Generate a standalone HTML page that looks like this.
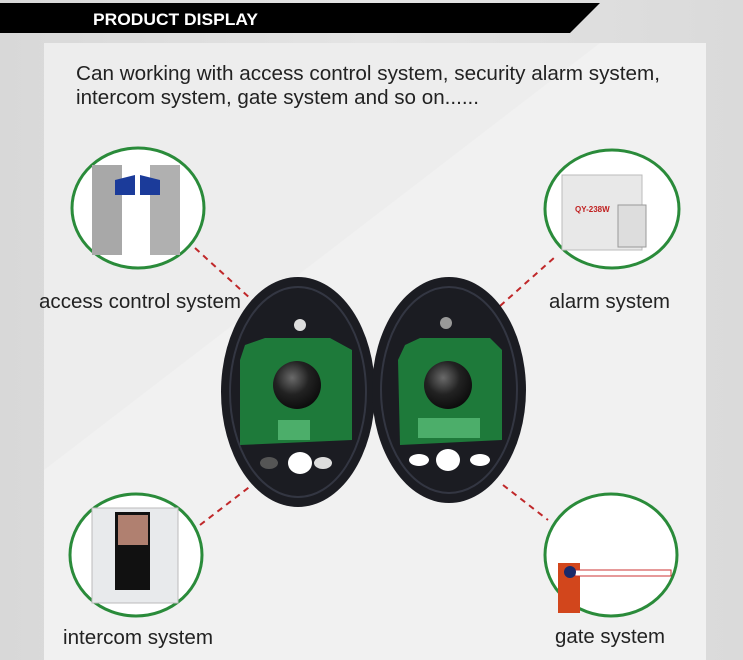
<!DOCTYPE html><html><head><style>
body{margin:0;width:743px;height:660px;overflow:hidden;background:#dcdcdc;font-family:"Liberation Sans",sans-serif}
</style></head><body>
<svg width="743" height="660" xmlns="http://www.w3.org/2000/svg" style="position:absolute;left:0;top:0">
<defs>
<linearGradient id="bg" x1="0" y1="0" x2="1" y2="0"><stop offset="0" stop-color="#d8d8d8"/><stop offset="0.5" stop-color="#e4e4e4"/><stop offset="1" stop-color="#dadada"/></linearGradient>
<radialGradient id="lens" cx="0.4" cy="0.35" r="0.7"><stop offset="0" stop-color="#6a6a6a"/><stop offset="0.5" stop-color="#222"/><stop offset="1" stop-color="#0a0a0a"/></radialGradient>
</defs>
<rect width="743" height="660" fill="url(#bg)"/>
<rect x="44" y="43" width="662" height="620" fill="#f1f1f1"/>
<polygon points="44,43 600,43 44,470" fill="#ebebeb" opacity="0.7"/>
<polygon points="0,3 600,3 570,33 0,33" fill="#000"/>
<text x="93" y="25" font-size="17" font-weight="bold" fill="#fff" textLength="165" lengthAdjust="spacingAndGlyphs">PRODUCT DISPLAY</text>
<text x="76" y="80" font-size="20" fill="#222" textLength="584" lengthAdjust="spacingAndGlyphs">Can working with access control system, security alarm system,</text>
<text x="76" y="104" font-size="20" fill="#222" textLength="403" lengthAdjust="spacingAndGlyphs">intercom system, gate system and so on......</text>
<g stroke="#c0282a" stroke-width="2" stroke-dasharray="6,5" fill="none">
<line x1="195" y1="248" x2="252" y2="300"/>
<line x1="500" y1="306" x2="555" y2="257"/>
<line x1="200" y1="525" x2="252" y2="485"/>
<line x1="503" y1="485" x2="548" y2="520"/>
</g>
<g fill="#fff" stroke="#2a8b3a" stroke-width="3">
<ellipse cx="138" cy="208" rx="66" ry="60"/>
<ellipse cx="612" cy="209" rx="67" ry="59"/>
<ellipse cx="136" cy="555" rx="66" ry="61"/>
<ellipse cx="611" cy="555" rx="66" ry="61"/>
</g>
<rect x="92" y="165" width="30" height="90" fill="#a8a8a8"/><rect x="150" y="165" width="30" height="90" fill="#b0b0b0"/>
<polygon points="115,180 135,175 135,195 115,195" fill="#1b3b9a"/><polygon points="140,175 160,180 160,195 140,195" fill="#1b3b9a"/>
<rect x="562" y="175" width="80" height="75" fill="#e8e8e8" stroke="#bbb"/><text x="575" y="212" font-size="8" font-weight="bold" fill="#c02020">QY-238W</text>
<rect x="618" y="205" width="28" height="42" fill="#ddd" stroke="#999"/>
<rect x="92" y="508" width="86" height="95" fill="#e8eaec" stroke="#bbb"/><rect x="115" y="512" width="35" height="78" fill="#111"/><rect x="118" y="515" width="30" height="30" fill="#b08070"/>
<rect x="558" y="563" width="22" height="50" fill="#d2461c"/><rect x="575" y="570" width="96" height="6" fill="#fff" stroke="#c33"/><circle cx="570" cy="572" r="6" fill="#1a2a6a"/>
<g font-size="20" fill="#222">
<text x="39" y="308" textLength="202" lengthAdjust="spacingAndGlyphs">access control system</text>
<text x="549" y="308" textLength="121" lengthAdjust="spacingAndGlyphs">alarm system</text>
<text x="63" y="644" textLength="150" lengthAdjust="spacingAndGlyphs">intercom system</text>
<text x="555" y="643" textLength="110" lengthAdjust="spacingAndGlyphs">gate system</text>
</g>
<ellipse cx="298" cy="392" rx="77" ry="115" fill="#1b1c22"/>
<ellipse cx="298" cy="392" rx="68" ry="105" fill="none" stroke="#333642" stroke-width="2"/>
<ellipse cx="449" cy="390" rx="77" ry="113" fill="#1b1c22"/>
<ellipse cx="449" cy="390" rx="68" ry="103" fill="none" stroke="#333642" stroke-width="2"/>
<polygon points="245,345 265,338 330,338 352,350 352,440 240,445 240,360" fill="#1e7a3a"/>
<polygon points="405,345 420,338 490,338 502,350 502,440 400,445 398,360" fill="#1e7a3a"/>
<circle cx="297" cy="385" r="24" fill="url(#lens)"/><circle cx="448" cy="385" r="24" fill="url(#lens)"/>
<rect x="278" y="420" width="32" height="20" fill="#4cae6a"/><rect x="418" y="418" width="62" height="20" fill="#4cae6a"/>
<circle cx="300" cy="325" r="6" fill="#ddd"/><circle cx="446" cy="323" r="6" fill="#999"/>
<ellipse cx="300" cy="463" rx="12" ry="11" fill="#fff"/><ellipse cx="323" cy="463" rx="9" ry="6" fill="#ddd"/><ellipse cx="269" cy="463" rx="9" ry="6" fill="#555"/>
<ellipse cx="448" cy="460" rx="12" ry="11" fill="#fff"/><ellipse cx="480" cy="460" rx="10" ry="6" fill="#fff"/><ellipse cx="419" cy="460" rx="10" ry="6" fill="#fff"/>
</svg>
</body></html>
